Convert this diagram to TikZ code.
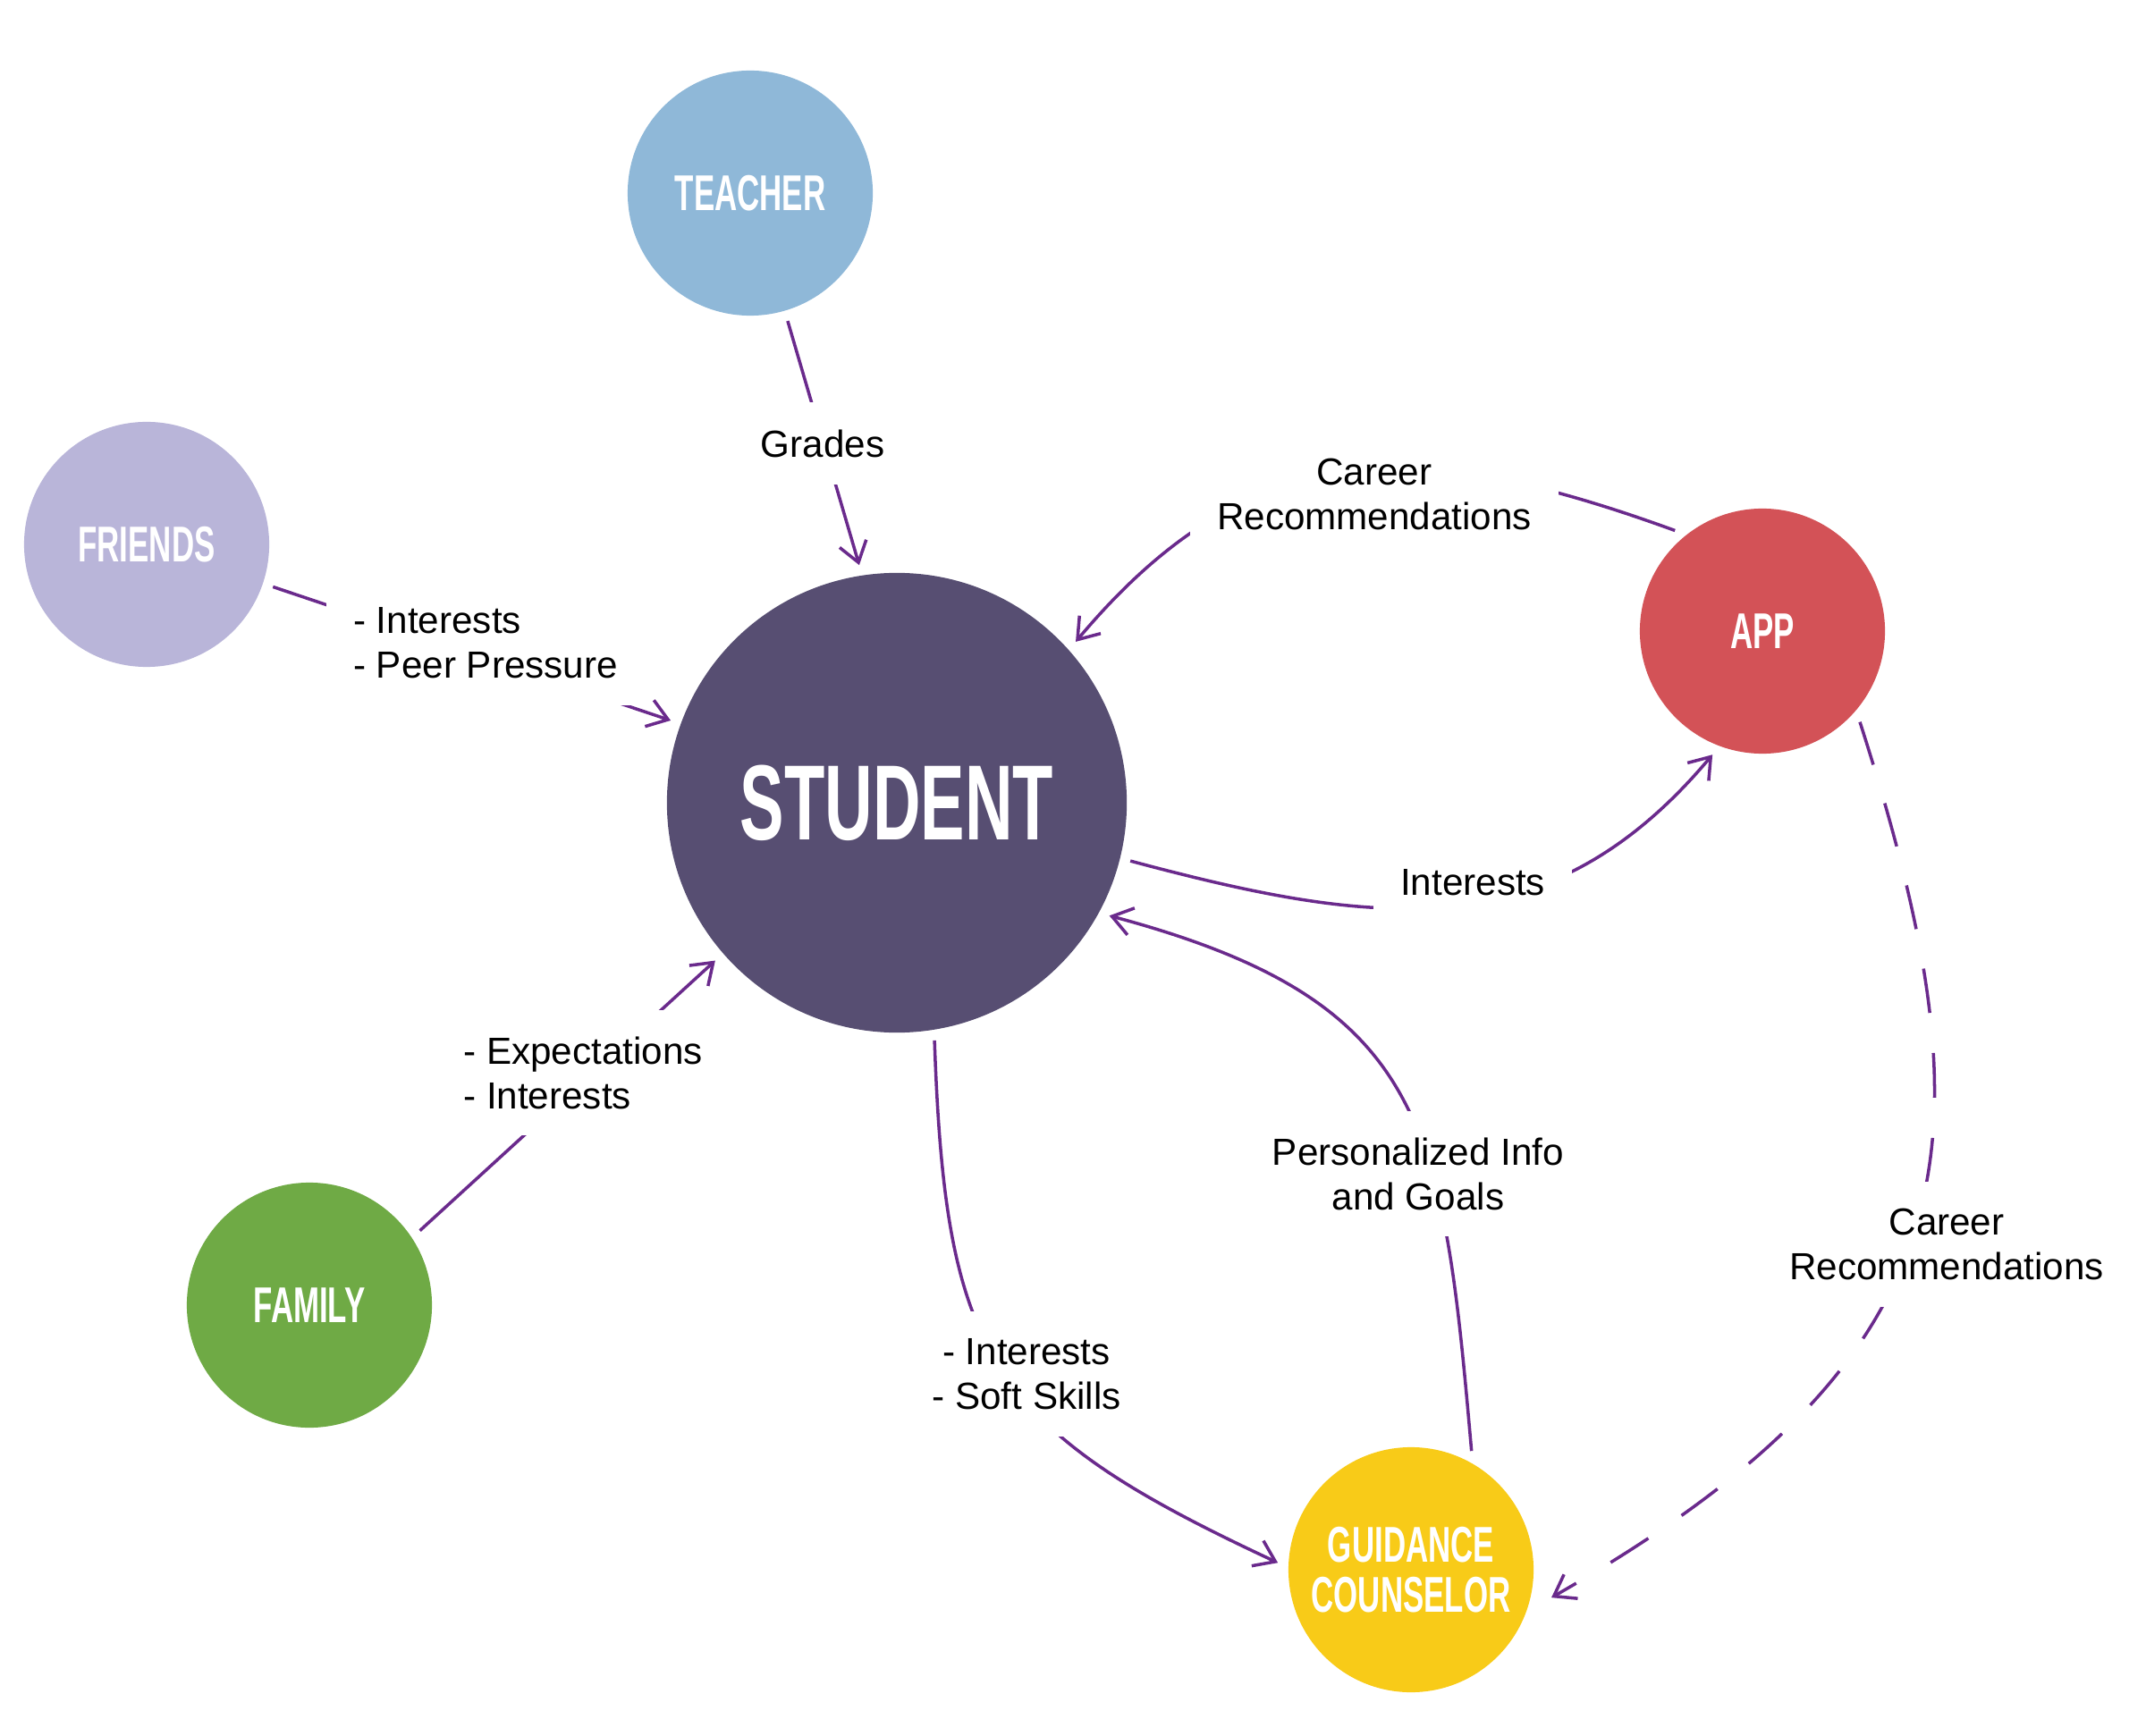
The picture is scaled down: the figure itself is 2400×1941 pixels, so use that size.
\documentclass[tikz,border=0pt]{standalone}
\usepackage{fontspec}
\setmainfont{Liberation Sans}
\newfontfamily\headfont[FakeStretch=0.62]{Liberation Sans}
\usetikzlibrary{arrows.meta}
\definecolor{teachercol}{HTML}{8FB8D8}
\definecolor{friendscol}{HTML}{B9B5D9}
\definecolor{studentcol}{HTML}{574E72}
\definecolor{appcol}{HTML}{D35257}
\definecolor{familycol}{HTML}{6FAA45}
\definecolor{counselcol}{HTML}{F8CB18}
\definecolor{linkcol}{HTML}{6A2A8C}

\begin{document}
\begin{tikzpicture}[x=0.01cm,y=0.01cm,
  actor/.style={circle,fill=#1,text=white,minimum size=2.74cm,inner sep=0pt,outer sep=0.12cm,
    align=center,font=\headfont\bfseries\fontsize{16}{16}\selectfont},
  lbl/.style={fill=white,inner sep=0.3cm,font=\fontsize{12}{14.2}\selectfont},
  link/.style={draw=linkcol,line width=1pt,-{Straight Barb[length=2.2mm,width=3.1mm]}}]
\useasboundingbox (0,0) rectangle (2400,1941);
% People and tools
\node[actor=studentcol,minimum size=5.14cm,font=\headfont\bfseries\fontsize{34}{34}\selectfont] (student) at (1003,1043) {STUDENT};
\node[actor=teachercol] (teacher) at (839,1725) {TEACHER};
\node[actor=friendscol] (friends) at (164,1332) {FRIENDS};
\node[actor=appcol] (app) at (1971,1235) {APP};
\node[actor=familycol] (family) at (346,481) {FAMILY};
\node[actor=counselcol] (counselor) at (1578,185) {GUIDANCE\\COUNSELOR};
% Connectors
\draw[link] (teacher) -- (student.99);
\draw[link] (friends) -- (student.160);
\draw[link] (family.34) -- (student.221);
\draw[link] (app.131) to[out=160,in=50,looseness=1.15] (student.42);
\draw[link] (student.-14) to[out=-15,in=230,looseness=1.1] (app.248);
\draw[link] (counselor.63) to[out=95,in=-15,looseness=1.3] (student.-28);
\draw[link] (student.-81) to[out=-88,in=155,looseness=1.3] (counselor.177);
\draw[link,dash pattern=on 0.5cm off 0.45cm,shorten >=0.15cm] (app.-43) .. controls +(150,-468) and +(490,280) .. (counselor.-15);
% Labels
\node[lbl] (gradeslbl) at (920,1445) {Grades};
\node[lbl,align=center] (recstudentlbl) at (1537,1388) {Career\\Recommendations};
\node[lbl,align=left] (friendslbl) at (543,1222) {- Interests\\- Peer Pressure};
\node[lbl] (interestslbl) at (1647,954) {Interests};
\node[lbl,align=left] (familylbl) at (652,741) {- Expectations\\- Interests};
\node[lbl,align=center] (infolbl) at (1586,628) {Personalized Info\\and Goals};
\node[lbl,align=center] (skillslbl) at (1148,404) {- Interests\\- Soft Skills};
\node[lbl,align=center] (reccounsellbl) at (2177,549) {Career\\Recommendations};
\end{tikzpicture}
\end{document}
